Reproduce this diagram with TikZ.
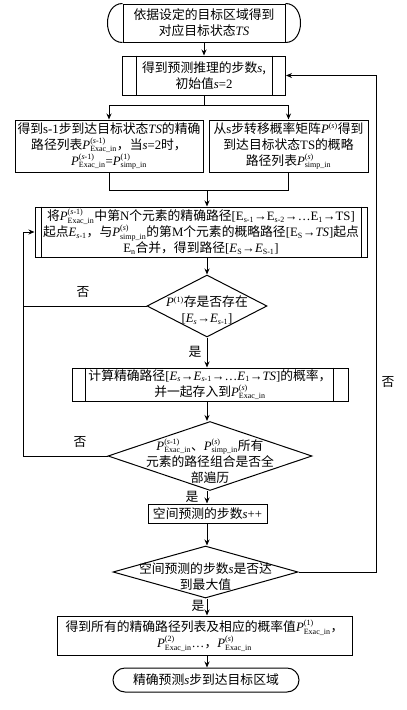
\documentclass[tikz,border=0pt]{standalone}
\usepackage{fontspec}
\setmainfont{Noto Sans CJK SC}
\newfontfamily\tm{Liberation Serif}
\usetikzlibrary{shapes.geometric,arrows.meta}
\newcommand{\vi}[1]{{\tm\itshape #1}}
\newcommand{\vr}[1]{{\tm #1}}
\newcommand{\smallt}{\tm\fontsize{8}{8}\selectfont}
\newcommand{\sbs}[2]{$^{\hbox{\smallt #1}}_{\hbox{\smallt #2}}$}
\newcommand{\subx}[1]{$_{\hbox{\smallt #1}}$}
\newcommand{\supx}[1]{$^{\hbox{\smallt #1}}$}
\begin{document}
\begin{tikzpicture}[x=1pt,y=-1pt,
  every node/.style={font=\fontsize{12.8}{16}\selectfont, inner sep=0pt},
  box/.style={draw, line width=1pt, rectangle, align=center},
  dia/.style={draw, line width=1pt, diamond},
  txt/.style={align=center},
  lbl/.style={font=\fontsize{12.8}{14}\selectfont},
  arr/.style={line width=1pt, -{Stealth[length=6pt,width=5pt]}},
  ln/.style={line width=1pt}]
\useasboundingbox (0,0) rectangle (407,710);
% top terminal
\node[box, minimum width=162pt, minimum height=38pt] (t) at (204,23) {依据设定的目标区域得到\\对应目标状态\vi{TS}};
\draw[ln] (t.north west) .. controls +(-20,0) and +(-20,0) .. (t.south west);
\draw[ln] (t.north east) .. controls +(20,0) and +(20,0) .. (t.south east);
% box s
\node[box, minimum width=163pt, minimum height=39pt] (s) at (204,75.5) {得到预测推理的步数\vi{s},\\初始值\vi{s}\vr{=2}};
\draw[ln] ([xshift=14pt]s.north west) -- ([xshift=14pt]s.south west);
\draw[ln] ([xshift=-14pt]s.north east) -- ([xshift=-14pt]s.south east);
% left / right boxes
\node[box, minimum width=188pt, minimum height=52pt] (L) at (109,146) {得到\vr{s-1}步到达目标状态\vi{TS}的精确\\路径列表\vi{P}\sbs{(\vi{s}-1)}{Exac\_in}，当\vi{s}\vr{=2}时，\\\vi{P}\sbs{(\vi{s}-1)}{Exac\_in}\vr{=}\vi{P}\sbs{(1)}{simp\_in}};
\node[box, minimum width=159pt, minimum height=52pt] (R) at (288.5,146) {从\vr{s}步转移概率矩阵\vi{P}\supx{(\vi{s})}得到\\到达目标状态\vr{TS}的概略\\路径列表\vi{P}\sbs{(\vi{s})}{simp\_in}};
% big box
\node[box, minimum width=332pt, minimum height=50pt] (B) at (201,232) {将\vi{P}\sbs{(\vi{s}-1)}{Exac\_in}中第\vr{N}个元素的精确路径\vr{[E\subx{s-1}→E\subx{s-2}→…E\subx{1}→TS]}\\起点\vi{E}\subx{\vi{s}-1}，与\vi{P}\sbs{(\vi{s})}{simp\_in}的第\vr{M}个元素的概略路径\vr{[E\subx{S}→\vi{TS}]}起点\\\vr{E}\subx{n}合并，得到路径\vr{[}\vi{E}\subx{S}\vr{→}\vi{E}\subx{S-1}\vr{]}};
\draw[line width=1.4pt] ([xshift=7pt]B.north west) -- ([xshift=7pt]B.south west);
\draw[line width=1.4pt] ([xshift=-6pt]B.north east) -- ([xshift=-6pt]B.south east);
% diamond 1
\node[dia, minimum width=120pt, minimum height=62pt] (d1) at (207,306) {};
\node[txt] at (207,310) {\vi{P}\supx{(1)}存是否存在\\\relax\vr{[}\vi{E}\subx{\vi{s}}\vr{→}\vi{E}\subx{\vi{s}-1}\vr{]}};
% box 3
\node[box, minimum width=276pt, minimum height=33pt] (c) at (210,384.5) {计算精确路径\vr{[}\vi{E}\subx{\vi{s}}\vr{→}\vi{E}\subx{\vi{s}-1}\vr{→…}\vi{E}\subx{1}\vr{→}\vi{TS}\vr{]}的概率，\\并一起存入到\vi{P}\sbs{(\vi{s})}{Exac\_in}};
\draw[ln] ([xshift=14pt]c.north west) -- ([xshift=14pt]c.south west);
\draw[ln] ([xshift=-15pt]c.north east) -- ([xshift=-15pt]c.south east);
% diamond 2
\node[dia, minimum width=204pt, minimum height=69pt] (d2) at (210,456) {};
\node[txt] at (210,461) {\vi{P}\sbs{(\vi{s}-1)}{Exac\_in}、\vi{P}\sbs{(\vi{s})}{simp\_in}所有\\元素的路径组合是否全\\部遍历};
% box 4
\node[box, minimum width=119pt, minimum height=19pt] (e) at (207.5,513.5) {空间预测的步数\vi{s}\vr{++}};
% diamond 3
\node[dia, minimum width=185pt, minimum height=52pt] (d3) at (205.5,572) {};
\node[txt] at (205.5,576.5) {空间预测的步数\vi{s}是否达\\到最大值};
% box 5
\node[box, minimum width=295pt, minimum height=39pt] (f) at (204.5,635.5) {得到所有的精确路径列表及相应的概率值\vi{P}\sbs{(1)}{Exac\_in}，\\\vi{P}\sbs{(2)}{Exac\_in}\vr{…}，\vi{P}\sbs{(\vi{s})}{Exac\_in}};
% terminal
\node[box, rounded corners=12pt, minimum width=186pt, minimum height=24pt] (g) at (206,680) {精确预测\vi{s}步到达目标区域};
% coordinates
\coordinate (sp) at (206,105);
\coordinate (jn) at (207,190);
\coordinate (lx) at (23,232);
\coordinate (rx) at (376,75.5);
% connectors
\draw[arr] (t.south) -- (t.south |- s.north);
\draw[ln] (s.south) -- (s.south |- sp);
\draw[ln] (L.north |- sp) -- (R.north |- sp);
\draw[arr] (L.north |- sp) -- (L.north);
\draw[arr] (R.north |- sp) -- (R.north);
\draw[ln] (L.south) -- (L.south |- jn) -- (R.south |- jn) -- (R.south);
\draw[arr] (jn) -- (jn |- B.north);
\draw[arr] (B.south -| d1.north) -- (d1.north);
\draw[arr] (d1.south) -- (d1.south |- c.north);
\draw[arr] (c.south -| d1.south) -- (d1.south |- d2.north);
\draw[arr] (d2.south -| d1.south) -- (d1.south |- e.north);
\draw[arr] (e.south -| d1.south) -- (d1.south |- d3.north);
\draw[arr] (d3.south -| d1.south) -- (d1.south |- f.north);
\draw[arr] (f.south -| d1.south) -- (d1.south |- g.north);
\draw[ln] (d1.west) -- (d1.west -| lx);
\draw[arr] (d2.west) -- (d2.west -| lx) -- (lx) -- (B.west);
\draw[arr] (d3.east) -- (d3.east -| rx) -- (rx) -- (s.east);
% labels
\node[lbl] (n1) at (83,292) {否};
\node[lbl] (n2) at (80,442) {否};
\node[lbl] (n3) at (388,382) {否};
\node[lbl] (y1) at (195,352) {是};
\node[lbl] (y2) at (192,497) {是};
\node[lbl] (y3) at (198,606) {是};
\end{tikzpicture}
\end{document}
